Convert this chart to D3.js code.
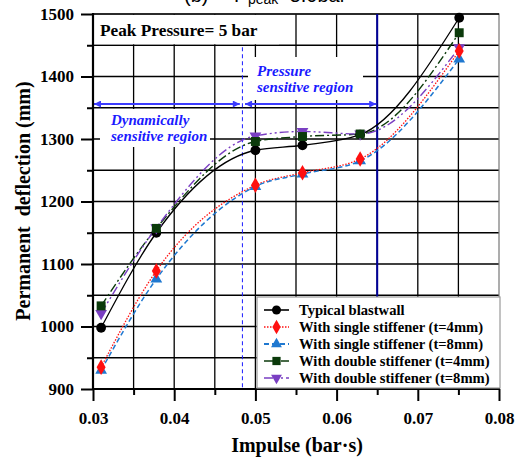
<!DOCTYPE html>
<html>
<head>
<meta charset="utf-8">
<script src="https://cdn.jsdelivr.net/npm/d3@7"></script>
<style>
  html, body { margin: 0; padding: 0; background: #fff; }
  svg { display: block; }
  .axis path { display: none; }
  .axis line { stroke: #000; stroke-width: 2; }
  .axis text { font-family: "Liberation Serif", "Times New Roman", serif; font-weight: bold; font-size: 17px; fill: #000; }
</style>
</head>
<body>
<svg width="524" height="457"></svg>
<script>
// values
var impulse = [0.031, 0.0378, 0.05, 0.0558, 0.0629, 0.0751];
var typical = [998, 1150, 1282, 1290, 1307, 1494];
var single4 = [935, 1089, 1226, 1246, 1268, 1441];
var single8 = [930, 1076, 1224, 1244, 1265, 1428];
var double4 = [1033, 1157, 1296, 1304, 1308, 1470];
var double8 = [1021, 1158, 1305, 1312, 1308, 1446];
var seriesNames = ['Typical blastwall', 'With single stiffener (t=4mm)', 'With single stiffener (t=8mm)',
                   'With double stiffener (t=4mm)', 'With double stiffener (t=8mm)'];
var xTicks = [0.03, 0.04, 0.05, 0.06, 0.07, 0.08];
var yTicks = [900, 1000, 1100, 1200, 1300, 1400, 1500];
var regionEdges = [0.03, 0.0484, 0.065];
var arrowLevel = 1356;

var series = [
    { name: seriesNames[0], values: typical, color: '#000000', dash: null, width: 1.3, sym: d3.symbolCircle, size: 75, z: 0 },
    { name: seriesNames[1], values: single4, color: '#ff1010', dash: '1.5,1.5', width: 1.3, sym: d3.symbolDiamond, size: 70, z: 3 },
    { name: seriesNames[2], values: single8, color: '#1f78d0', dash: '5,3', width: 1.5, sym: d3.symbolTriangle, size: 60, z: 1 },
    { name: seriesNames[3], values: double4, color: '#0b3a0b', dash: '9,3,2,3', width: 1.4, sym: d3.symbolSquare, size: 80, z: 4 },
    { name: seriesNames[4], values: double8, color: '#7a3fc2', dash: '9,3,2,3,2,3', width: 1.4, sym: d3.symbolTriangle, size: 60, flip: true, z: 2 }
];

var svg = d3.select('svg');
var L = 93, R = 499, T = 14, B = 389;

var x = d3.scaleLinear().domain([0.03, 0.08]).range([L, R]);
var y = d3.scaleLinear().domain([900, 1500]).range([B, T]);

// grid
var grid = svg.append('g');
grid.selectAll('line.v')
    .data(d3.range(0.035, 0.0799, 0.005))
    .enter().append('line')
    .attr('x1', function (d) { return x(d); }).attr('x2', function (d) { return x(d); })
    .attr('y1', T).attr('y2', B)
    .attr('stroke', '#000').attr('stroke-width', 1.3);
grid.selectAll('line.h')
    .data(d3.range(950, 1499, 50))
    .enter().append('line')
    .attr('x1', L).attr('x2', R)
    .attr('y1', function (d) { return y(d); }).attr('y2', function (d) { return y(d); })
    .attr('stroke', '#000').attr('stroke-width', 1.3);

svg.append('rect')
    .attr('x', L).attr('y', T).attr('width', R - L).attr('height', B - T)
    .attr('fill', 'none').attr('stroke', '#777').attr('stroke-width', 1.2);
svg.append('line').attr('x1', L).attr('x2', R).attr('y1', T).attr('y2', T)
    .attr('stroke', '#000').attr('stroke-width', 1.3);

// white boxes behind annotations
svg.append('rect').attr('x', L + 1).attr('y', T + 1).attr('width', 185).attr('height', y(1450) - T - 2).attr('fill', '#fff');
svg.append('rect').attr('x', 248).attr('y', 57).attr('width', 115).attr('height', 43).attr('fill', '#fff');
svg.append('rect').attr('x', 100).attr('y', 109).attr('width', 110).attr('height', 38).attr('fill', '#fff');

// region lines
svg.append('line')
    .attr('x1', x(regionEdges[1])).attr('x2', x(regionEdges[1]))
    .attr('y1', y(1450) + 2).attr('y2', B)
    .attr('stroke', '#1a1aff').attr('stroke-width', 1).attr('stroke-dasharray', '4,3');
svg.append('line')
    .attr('x1', x(regionEdges[2])).attr('x2', x(regionEdges[2]))
    .attr('y1', T).attr('y2', B)
    .attr('stroke', '#000099').attr('stroke-width', 2);

// arrows
var arrowColor = '#3b3bff';
svg.append('defs').append('marker')
    .attr('id', 'ah').attr('viewBox', '0 0 10 10').attr('refX', 10).attr('refY', 5)
    .attr('markerWidth', 4).attr('markerHeight', 3.5).attr('orient', 'auto-start-reverse')
    .attr('markerUnits', 'strokeWidth')
    .append('path').attr('d', 'M0,0L10,5L0,10Z').attr('fill', arrowColor);
[[regionEdges[0], regionEdges[1] - 0.0002], [regionEdges[1] + 0.0002, regionEdges[2]]].forEach(function (seg) {
    svg.append('line')
        .attr('x1', x(seg[0]) + 1).attr('x2', x(seg[1]) - 1)
        .attr('y1', y(arrowLevel)).attr('y2', y(arrowLevel))
        .attr('stroke', arrowColor).attr('stroke-width', 2)
        .attr('marker-start', 'url(#ah)').attr('marker-end', 'url(#ah)');
});

// annotation texts
var serif = '"Liberation Serif", "Times New Roman", serif';
svg.append('text').attr('x', 100).attr('y', 36)
    .attr('font-family', serif).attr('font-weight', 'bold').attr('font-size', 17.3)
    .text('Peak Pressure= 5 bar');
var dyn = svg.append('text').attr('font-family', serif).attr('font-weight', 'bold')
    .attr('font-style', 'italic').attr('font-size', 15).attr('fill', '#1a1aff');
dyn.append('tspan').attr('x', 111).attr('y', 125).text('Dynamically');
dyn.append('tspan').attr('x', 111).attr('y', 141).text('sensitive region');
var prs = svg.append('text').attr('font-family', serif).attr('font-weight', 'bold')
    .attr('font-style', 'italic').attr('font-size', 15).attr('fill', '#1a1aff');
prs.append('tspan').attr('x', 257).attr('y', 76).text('Pressure');
prs.append('tspan').attr('x', 257).attr('y', 92).text('sensitive region');

// title, cut off at top as in the source
var ttl = svg.append('text').attr('font-family', '"Liberation Sans", Arial, sans-serif').attr('font-size', 20).attr('fill', '#000');
ttl.append('tspan').attr('x', 184).attr('y', 2).text('(b)');
ttl.append('tspan').attr('x', 234).attr('y', 2).text('P');
ttl.append('tspan').attr('x', 248).attr('y', 3.5).attr('font-size', 14).text('peak');
ttl.append('tspan').attr('x', 278).attr('y', 2).text('=5.0bar');

// curves
var line = d3.line()
    .x(function (d) { return x(d[0]); })
    .y(function (d) { return y(d[1]); })
    .curve(d3.curveMonotoneX);

series.forEach(function (s) {
    var pts = impulse.map(function (v, i) { return [v, s.values[i]]; });
    svg.append('path')
        .attr('d', line(pts))
        .attr('fill', 'none')
        .attr('stroke', s.color)
        .attr('stroke-width', s.width)
        .attr('stroke-dasharray', s.dash);
});
series.slice().sort(function (a, b) { return a.z - b.z; }).forEach(function (s) {
    svg.selectAll(null)
        .data(impulse.map(function (v, i) { return [v, s.values[i]]; }))
        .enter().append('path')
        .attr('d', d3.symbol().type(s.sym).size(s.size))
        .attr('transform', function (d) {
            return 'translate(' + x(d[0]) + ',' + y(d[1]) + ')' + (s.flip ? ' rotate(180)' : '');
        })
        .attr('fill', s.color);
});

// axes
svg.append('g').attr('class', 'axis')
    .attr('transform', 'translate(0,' + B + ')')
    .call(d3.axisBottom(x).tickValues(d3.range(0.035, 0.08, 0.01)).tickSize(6).tickFormat(''));
svg.append('g').attr('class', 'axis')
    .attr('transform', 'translate(0,' + B + ')')
    .call(d3.axisBottom(x).tickValues(xTicks).tickSize(12).tickPadding(11).tickFormat(d3.format('.2f')));
svg.append('g').attr('class', 'axis')
    .attr('transform', 'translate(' + L + ',0)')
    .call(d3.axisLeft(y).tickValues(d3.range(950, 1500, 100)).tickSize(6).tickFormat(''));
svg.append('g').attr('class', 'axis')
    .attr('transform', 'translate(' + L + ',0)')
    .call(d3.axisLeft(y).tickValues(yTicks).tickSize(12).tickPadding(7).tickFormat(d3.format('d')));
svg.append('line').attr('x1', L).attr('x2', L).attr('y1', T - 1).attr('y2', B + 1).attr('stroke', '#000').attr('stroke-width', 2.2);
svg.append('line').attr('x1', L - 1).attr('x2', R + 1).attr('y1', B).attr('y2', B).attr('stroke', '#000').attr('stroke-width', 2.2);

// axis titles
svg.append('text').attr('x', 297).attr('y', 452).attr('text-anchor', 'middle')
    .attr('font-family', serif).attr('font-weight', 'bold').attr('font-size', 20)
    .text('Impulse (bar\u00b7s)');
svg.append('text').attr('transform', 'translate(30,201) rotate(-90)').attr('text-anchor', 'middle')
    .attr('font-family', serif).attr('font-weight', 'bold').attr('font-size', 20)
    .attr('xml:space', 'preserve').style('white-space', 'pre')
    .text('Permanent  deflection (mm)');

// legend
var lg = svg.append('g');
lg.append('rect').attr('x', 257).attr('y', 297).attr('width', 243).attr('height', 91)
    .attr('fill', '#fff').attr('stroke', '#999').attr('stroke-width', 1.2);
series.forEach(function (s, i) {
    var ly = 310 + i * 17;
    lg.append('line').attr('x1', 264).attr('x2', 289).attr('y1', ly).attr('y2', ly)
        .attr('stroke', s.color).attr('stroke-width', s.width + 0.3).attr('stroke-dasharray', s.dash);
    lg.append('path').attr('d', d3.symbol().type(s.sym).size(s.size * 0.85))
        .attr('transform', 'translate(276.5,' + ly + ')' + (s.flip ? ' rotate(180)' : ''))
        .attr('fill', s.color);
    lg.append('text').attr('x', 299).attr('y', ly).attr('dy', '0.35em')
        .attr('font-family', serif).attr('font-weight', 'bold').attr('font-size', 14.6)
        .text(s.name);
});
</script>
</body>
</html>
